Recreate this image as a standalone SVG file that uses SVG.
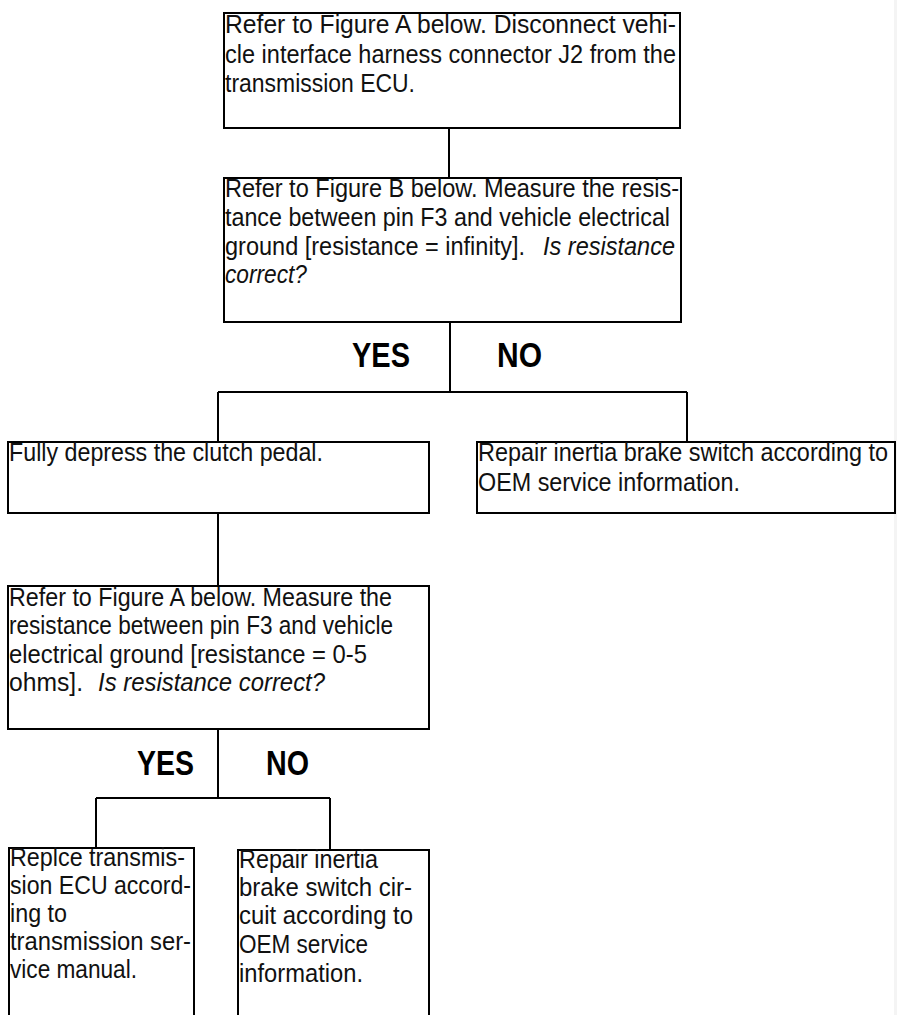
<svg xmlns="http://www.w3.org/2000/svg" width="897" height="1015" viewBox="0 0 897 1015">
<style>
.box{fill:none;stroke:#000;stroke-width:2}
.con{fill:none;stroke:#000;stroke-width:2}
text{font-family:"Liberation Sans",Arial,sans-serif;font-size:25px;fill:#111}
.it{font-style:italic}
.yn{font-weight:bold;font-size:35px;fill:#000}
</style>
<rect x="0" y="0" width="897" height="1015" fill="#fff"/>
<rect x="894" y="0" width="3" height="1015" fill="#f4f4f4"/>
<g id="connectors">
<path class="con" d="M449,128V178"/>
<path class="con" d="M450,322V392M218,392H687M218,392V442M687,392V442"/>
<path class="con" d="M218,513V586"/>
<path class="con" d="M218,729V798M96,798H330M96,798V848M330,798V850"/>
</g>
<g id="n1">
<rect class="box" x="224" y="13" width="456" height="115"/>
<text x="225" y="33" textLength="451" lengthAdjust="spacingAndGlyphs">Refer to Figure A below.  Disconnect vehi-</text>
<text x="225" y="63" textLength="451" lengthAdjust="spacingAndGlyphs">cle interface harness connector J2 from the</text>
<text x="225" y="92" textLength="190" lengthAdjust="spacingAndGlyphs">transmission ECU.</text>
</g>
<g id="n2">
<rect class="box" x="224" y="178" width="457" height="144"/>
<text x="225" y="197" textLength="454" lengthAdjust="spacingAndGlyphs">Refer to Figure B below.  Measure the resis-</text>
<text x="225" y="226" textLength="445" lengthAdjust="spacingAndGlyphs">tance between pin F3 and vehicle electrical</text>
<text x="225" y="255" textLength="300" lengthAdjust="spacingAndGlyphs">ground [resistance = infinity].</text>
<text class="it" x="543" y="255" textLength="132" lengthAdjust="spacingAndGlyphs">Is resistance</text>
<text class="it" x="225" y="283" textLength="82" lengthAdjust="spacingAndGlyphs">correct?</text>
</g>
<g id="yn1">
<text class="yn" x="352" y="367" textLength="58" lengthAdjust="spacingAndGlyphs">YES</text>
<text class="yn" x="497" y="367" textLength="45" lengthAdjust="spacingAndGlyphs">NO</text>
</g>
<g id="n3">
<rect class="box" x="8" y="442" width="421" height="71"/>
<text x="9" y="461" textLength="314" lengthAdjust="spacingAndGlyphs">Fully depress the clutch pedal.</text>
</g>
<g id="n4">
<rect class="box" x="477" y="442" width="418" height="71"/>
<text x="478" y="461" textLength="410" lengthAdjust="spacingAndGlyphs">Repair inertia brake switch according to</text>
<text x="478" y="491" textLength="262" lengthAdjust="spacingAndGlyphs">OEM service information.</text>
</g>
<g id="n5">
<rect class="box" x="8" y="586" width="421" height="143"/>
<text x="9" y="606" textLength="383" lengthAdjust="spacingAndGlyphs">Refer to Figure A below.  Measure the</text>
<text x="9" y="634" textLength="384" lengthAdjust="spacingAndGlyphs">resistance between pin F3 and vehicle</text>
<text x="9" y="663" textLength="358" lengthAdjust="spacingAndGlyphs">electrical ground [resistance = 0-5</text>
<text x="9" y="691" textLength="74" lengthAdjust="spacingAndGlyphs">ohms].</text>
<text class="it" x="98" y="691" textLength="227" lengthAdjust="spacingAndGlyphs">Is resistance correct?</text>
</g>
<g id="yn2">
<text class="yn" x="137" y="775" textLength="57" lengthAdjust="spacingAndGlyphs">YES</text>
<text class="yn" x="266" y="775" textLength="43" lengthAdjust="spacingAndGlyphs">NO</text>
</g>
<g id="n6">
<rect class="box" x="9" y="848" width="185" height="180"/>
<text x="10" y="866" textLength="175" lengthAdjust="spacingAndGlyphs">Replce transmis-</text>
<text x="10" y="894" textLength="181" lengthAdjust="spacingAndGlyphs">sion ECU accord-</text>
<text x="10" y="922" textLength="57" lengthAdjust="spacingAndGlyphs">ing to</text>
<text x="10" y="950" textLength="181" lengthAdjust="spacingAndGlyphs">transmission ser-</text>
<text x="10" y="978" textLength="127" lengthAdjust="spacingAndGlyphs">vice manual.</text>
</g>
<g id="n7">
<rect class="box" x="238" y="850" width="191" height="180"/>
<text x="239" y="868" textLength="139" lengthAdjust="spacingAndGlyphs">Repair inertia</text>
<text x="239" y="896" textLength="173" lengthAdjust="spacingAndGlyphs">brake switch cir-</text>
<text x="239" y="924" textLength="174" lengthAdjust="spacingAndGlyphs">cuit according to</text>
<text x="239" y="953" textLength="129" lengthAdjust="spacingAndGlyphs">OEM service</text>
<text x="239" y="982" textLength="124" lengthAdjust="spacingAndGlyphs">information.</text>
</g>
</svg>
